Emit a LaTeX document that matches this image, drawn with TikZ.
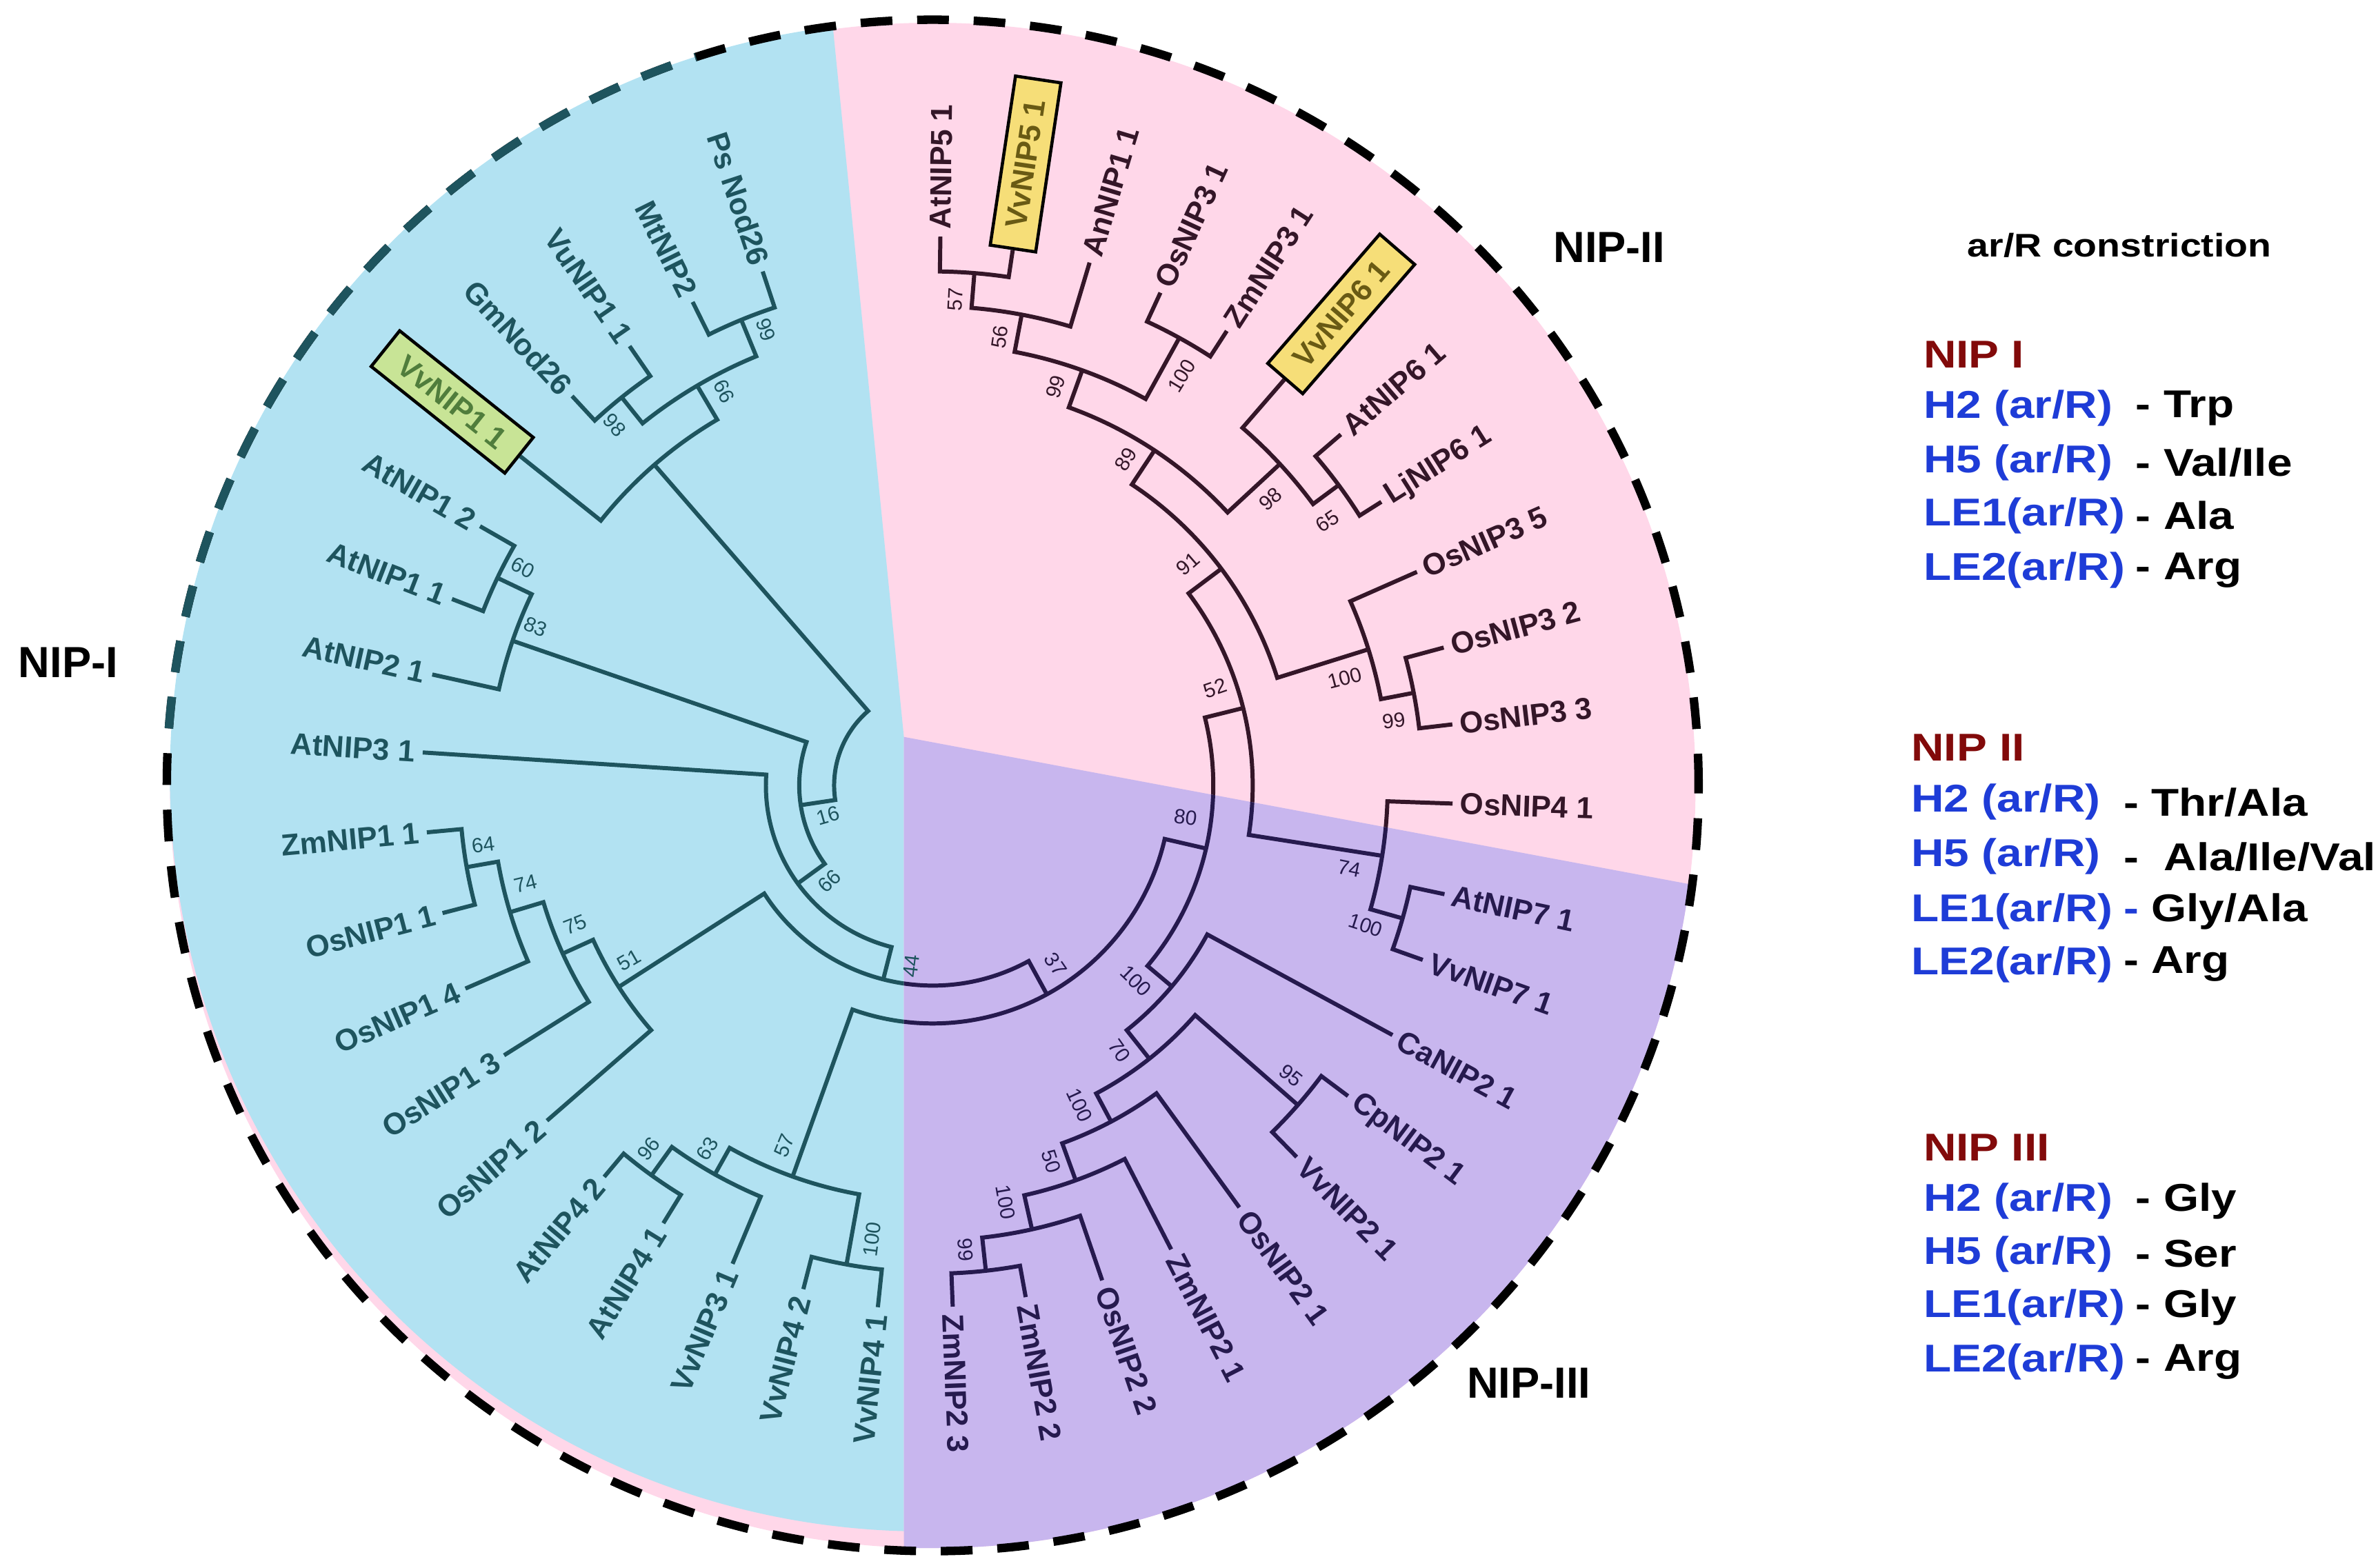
\documentclass[tikz,border=0pt]{standalone}
\usepackage{fontspec}
\setmainfont{Liberation Sans}
\usepackage{tikz}

\definecolor{bluebg}{RGB}{178,226,242}
\definecolor{pinkbg}{RGB}{255,215,233}
\definecolor{purplebg}{RGB}{200,182,238}
\definecolor{tealline}{RGB}{30,84,94}
\definecolor{pinkline}{RGB}{52,22,40}
\definecolor{purpline}{RGB}{38,26,78}
\definecolor{yellowbox}{RGB}{246,222,120}
\definecolor{yellowtext}{RGB}{105,90,20}
\definecolor{greenbox}{RGB}{200,228,150}
\definecolor{greentext}{RGB}{80,125,60}
\definecolor{legblue}{RGB}{30,60,215}
\definecolor{legred}{RGB}{130,10,10}

\tikzset{
  branch/.style={draw=pinkline, line width=1.7pt},
  leaf/.style={font=\fontsize{12.5}{14}\selectfont\bfseries, inner xsep=3pt, inner ysep=1pt},
  leafI/.style={leaf, text=tealline},
  leafII/.style={leaf, text=pinkline},
  leafIII/.style={leaf, text=purpline},
  boot/.style={font=\fontsize{8.5}{10}\selectfont, inner sep=0pt},
  vvbox/.style={draw=black, line width=1.3pt, inner xsep=3mm, inner ysep=1.8mm},
  ring/.style={line width=3.5pt, dash pattern=on 4.6mm off 3.6mm},
  nipname/.style={font=\fontsize{18}{20}\selectfont\bfseries},
  legend/.style={font=\fontsize{16}{18}\selectfont\bfseries, inner sep=0pt, anchor=west}
}

% one clade: child -- parent arc -- child
\newcommand{\clade}[5]{\draw[branch] (#1) -- (#2:#5) arc[start angle=#2, end angle=#4, radius=#5] -- (#3);}
% bootstrap values, right and left half
\newcommand{\bsR}[4]{\node[boot, rotate=#2] (#1) at (#2:#3) {#4};}
\newcommand{\bsL}[4]{\node[boot, rotate=#2-180] (#1) at (#2:#3) {#4};}
\newcommand{\wide}[1]{\scalebox{1.17}[1]{#1}}

\newcommand{\drawtree}{%
  % NIP-II
  \clade{L1}{89.2}{L2}{81.5}{339}
  \clade{n57}{85.35}{L3}{73.3}{316}
  \clade{L4}{65.2}{L5}{57.1}{337}
  \clade{n56}{79.3}{n100a}{61.15}{291}
  \clade{L7}{40.7}{L8}{32.3}{333}
  \clade{L6}{49.1}{n65}{36.5}{312}
  \clade{n99}{70.2}{n98}{42.8}{265}
  \clade{L10}{15.1}{L11}{6.7}{323}
  \clade{L9}{23.8}{n99b}{10.9}{301}
  \clade{n89}{56.5}{n100b}{17.35}{238}
  \clade{L13}{-12}{L14}{-19.6}{322}
  \clade{L12}{-2}{n100c}{-15.8}{300}
  \clade{n91}{36.9}{n74}{-8.9}{211}
  % NIP-III
  \clade{L21}{-79.7}{L22}{-87.8}{322}
  \clade{L20}{-71.1}{n99d}{-83.75}{300}
  \clade{L19}{-62.8}{n100g}{-77.4}{277}
  \clade{L18}{-54}{n50}{-70.1}{251}
  \clade{L16}{-36.8}{L17}{-45.6}{320}
  \clade{n95}{-41.2}{n100f}{-62.05}{230}
  \clade{L15}{-28.5}{n70}{-51.6}{206}
  \clade{n52}{14}{n100d}{-40.05}{185}
  % NIP-I
  \clade{L24}{255.6}{L23}{264}{321}
  \clade{L27}{230}{L26}{238.4}{317}
  \clade{n96}{234.2}{L25}{247.3}{294}
  \clade{n63}{240.75}{n100e}{259.8}{274}
  \clade{n57L}{250.3}{n80}{347}{157}
  \clade{L32}{185.3}{L31}{194.6}{312}
  \clade{n64}{189.95}{L30}{203.5}{291}
  \clade{n74b}{196.7}{L29}{212.2}{268}
  \clade{n75}{204.45}{L28}{221}{246}
  \clade{n51}{212.7}{n37}{298.65}{132}
  \clade{L33}{176.3}{n44}{255.7}{110}
  \clade{L36}{150.2}{L35}{158.8}{318}
  \clade{n60}{154.5}{L34}{167.5}{293}
  \clade{n83}{161}{n66}{216}{88}
  \clade{L41}{108.3}{L40}{116.4}{332}
  \clade{L39}{124.6}{L38}{132.8}{328}
  \clade{n99c}{112.35}{n98c}{128.7}{306}
  \clade{n66a}{120.5}{L37}{141.4}{280}
  \clade{nV}{130.95}{n16}{188.5}{65}
}

\begin{document}
\begin{tikzpicture}[x=0.22mm, y=0.22mm]
\useasboundingbox (0,0) rectangle (1568,1034);
\coordinate (T) at (615,516);

% coloured sectors
\fill[pinkbg] (T) circle[radius=503];
\begin{scope}
  \clip (0,0) -- (596,0) -- (596,548) -- (547.4,1034) -- (0,1034) -- cycle;
  \fill[bluebg] (610,522) circle[radius=498];
\end{scope}
\begin{scope}
  \clip (596,548) -- (1300,416) -- (1300,0) -- (596,0) -- cycle;
  \fill[purplebg] (T) circle[radius=503];
\end{scope}

% leaf tips and inner nodes
\begin{scope}[shift={(T)}]
  \coordinate (L1) at (89.2:362);
  \coordinate (L2) at (81.5:357);
  \coordinate (L3) at (73.3:360);
  \coordinate (L4) at (65.2:358);
  \coordinate (L5) at (57.1:357);
  \coordinate (L6) at (49.1:354);
  \coordinate (L7) at (40.7:355);
  \coordinate (L8) at (32.3:350);
  \coordinate (L9) at (23.8:349);
  \coordinate (L10) at (15.1:349);
  \coordinate (L11) at (6.7:345);
  \coordinate (L12) at (-2:343);
  \coordinate (L13) at (-12:345);
  \coordinate (L14) at (-19.6:343);
  \coordinate (L15) at (-28.5:345);
  \coordinate (L16) at (-36.8:342);
  \coordinate (L17) at (-45.6:343);
  \coordinate (L18) at (-54:344);
  \coordinate (L19) at (-62.8:344);
  \coordinate (L20) at (-71.1:345);
  \coordinate (L21) at (-79.7:343);
  \coordinate (L22) at (-87.8:344);
  \coordinate (L23) at (264:346);
  \coordinate (L24) at (255.6:343);
  \coordinate (L25) at (247.3:342);
  \coordinate (L26) at (238.4:339);
  \coordinate (L27) at (230:337);
  \coordinate (L28) at (221:337);
  \coordinate (L29) at (212.2:334);
  \coordinate (L30) at (203.5:336);
  \coordinate (L31) at (194.6:334);
  \coordinate (L32) at (185.3:335);
  \coordinate (L33) at (176.3:337);
  \coordinate (L34) at (167.5:338);
  \coordinate (L35) at (158.8:340);
  \coordinate (L36) at (150.2:344);
  \coordinate (L37) at (141.4:348);
  \coordinate (L38) at (132.8:350);
  \coordinate (L39) at (124.6:352);
  \coordinate (L40) at (116.4:356);
  \coordinate (L41) at (108.3:357);
  % NIP-II nodes
  \coordinate (n57) at (85.35:339);
  \coordinate (n56) at (79.3:316);
  \coordinate (n100a) at (61.15:337);
  \coordinate (n99) at (70.2:291);
  \coordinate (n65) at (36.5:333);
  \coordinate (n98) at (42.8:312);
  \coordinate (n89) at (56.5:265);
  \coordinate (n99b) at (10.9:323);
  \coordinate (n100b) at (17.35:301);
  \coordinate (n91) at (36.9:238);
  \coordinate (n100c) at (-15.8:322);
  \coordinate (n74) at (-8.9:300);
  \coordinate (n52) at (14:211);
  % NIP-III nodes
  \coordinate (n99d) at (-83.75:322);
  \coordinate (n100g) at (-77.4:300);
  \coordinate (n50) at (-70.1:277);
  \coordinate (n100f) at (-62.05:251);
  \coordinate (n95) at (-41.2:320);
  \coordinate (n70) at (-51.6:230);
  \coordinate (n100d) at (-40.05:206);
  \coordinate (n80) at (-13:185);
  % NIP-I nodes
  \coordinate (n100e) at (259.8:321);
  \coordinate (n96) at (234.2:317);
  \coordinate (n63) at (240.75:294);
  \coordinate (n57L) at (250.3:274);
  \coordinate (n37) at (298.65:157);
  \coordinate (n64) at (189.95:312);
  \coordinate (n74b) at (196.7:291);
  \coordinate (n75) at (204.45:268);
  \coordinate (n51) at (212.7:246);
  \coordinate (n44) at (255.7:132);
  \coordinate (n66) at (216:110);
  \coordinate (n60) at (154.5:318);
  \coordinate (n83) at (161:293);
  \coordinate (n16) at (188.5:88);
  \coordinate (n99c) at (112.35:332);
  \coordinate (n98c) at (128.7:328);
  \coordinate (n66a) at (120.5:306);
  \coordinate (nV) at (130.95:280);
\end{scope}

% tree, coloured by sector
\begin{scope}
  \clip (0,0) -- (596,0) -- (596,548) -- (547.4,1034) -- (0,1034) -- cycle;
  \begin{scope}[shift={(T)}, branch/.style={draw=tealline, line width=1.7pt}]
    \drawtree
  \end{scope}
\end{scope}
\begin{scope}
  \clip (596,548) -- (547.4,1034) -- (1300,1034) -- (1300,416) -- cycle;
  \begin{scope}[shift={(T)}]
    \drawtree
  \end{scope}
\end{scope}
\begin{scope}
  \clip (596,548) -- (1300,416) -- (1300,0) -- (596,0) -- cycle;
  \begin{scope}[shift={(T)}, branch/.style={draw=purpline, line width=1.7pt}]
    \drawtree
  \end{scope}
\end{scope}

% bootstrap values
\begin{scope}[shift={(T)}, boot/.append style={text=pinkline}]
  \bsR{b57}{87.3}{321}{57}
  \bsR{b56}{81.5}{299}{56}
  \bsR{b99}{72.9}{275}{99}
  \bsR{b100a}{58.7}{316}{100}
  \bsR{b89}{59.4}{250}{89}
  \bsR{b98}{40.3}{292}{98}
  \bsR{b65}{33.8}{313}{65}
  \bsR{b91}{41}{223}{91}
  \bsR{b100b}{14.6}{281}{100}
  \bsR{b99b}{8}{307}{99}
  \bsR{b52}{19}{197}{52}
\end{scope}
\begin{scope}[shift={(T)}, boot/.append style={text=purpline}]
  \bsR{b74}{-11.3}{280}{74}
  \bsR{b100c}{-17.9}{300}{100}
  \bsR{b80}{-7.2}{168}{80}
  \bsR{b100d}{-43.9}{186}{100}
  \bsR{b70}{-54.9}{214}{70}
  \bsR{b95}{-39}{304}{95}
  \bsR{b100f}{-65.3}{232}{100}
  \bsR{b50}{-72.5}{260}{50}
  \bsR{b100g}{-80.1}{279}{100}
  \bsR{b99d}{-86}{307}{99}
  \bsR{b37}{-55.5}{143}{37}
\end{scope}
\begin{scope}[shift={(T)}, boot/.append style={text=tealline}]
  \bsL{b44}{263.3}{120}{44}
  \bsL{b66}{222.8}{93}{66}
  \bsL{b16}{196}{72}{16}
  \bsL{b100e}{262.4}{302}{100}
  \bsL{b57L}{247.6}{257}{57}
  \bsL{b63}{238.2}{282}{63}
  \bsL{b96}{232}{304}{96}
  \bsL{b51}{209.9}{231}{51}
  \bsL{b75}{201.3}{253}{75}
  \bsL{b74b}{193.6}{276}{74}
  \bsL{b64}{187.5}{299}{64}
  \bsL{b83}{158.2}{282}{83}
  \bsL{b60}{152}{306}{60}
  \bsL{b98c}{131.4}{317}{98}
  \bsL{b66a}{117.9}{294}{66}
  \bsL{b99c}{110.1}{320}{99}
\end{scope}

% leaf names, NIP-II
\node[leafII, anchor=west, rotate=89.2] (t1) at (L1) {AtNIP5 1};
\node[leafII, vvbox, fill=yellowbox, text=yellowtext, anchor=west, rotate=81.5] (t2) at (L2) {VvNIP5 1};
\node[leafII, anchor=west, rotate=73.3] (t3) at (L3) {AnNIP1 1};
\node[leafII, anchor=west, rotate=65.2] (t4) at (L4) {OsNIP3 1};
\node[leafII, anchor=west, rotate=57.1] (t5) at (L5) {ZmNIP3 1};
\node[leafII, vvbox, fill=yellowbox, text=yellowtext, anchor=west, rotate=49.1] (t6) at (L6) {VvNIP6 1};
\node[leafII, anchor=west, rotate=40.7] (t7) at (L7) {AtNIP6 1};
\node[leafII, anchor=west, rotate=32.3] (t8) at (L8) {LjNIP6 1};
\node[leafII, anchor=west, rotate=23.8] (t9) at (L9) {OsNIP3 5};
\node[leafII, anchor=west, rotate=15.1] (t10) at (L10) {OsNIP3 2};
\node[leafII, anchor=west, rotate=6.7] (t11) at (L11) {OsNIP3 3};
\node[leafII, anchor=west, rotate=-2] (t12) at (L12) {OsNIP4 1};
% NIP-III
\node[leafIII, anchor=west, rotate=-12] (t13) at (L13) {AtNIP7 1};
\node[leafIII, anchor=west, rotate=-19.6] (t14) at (L14) {VvNIP7 1};
\node[leafIII, anchor=west, rotate=-28.5] (t15) at (L15) {CaNIP2 1};
\node[leafIII, anchor=west, rotate=-36.8] (t16) at (L16) {CpNIP2 1};
\node[leafIII, anchor=west, rotate=-45.6] (t17) at (L17) {VvNIP2 1};
\node[leafIII, anchor=west, rotate=-54] (t18) at (L18) {OsNIP2 1};
\node[leafIII, anchor=west, rotate=-62.8] (t19) at (L19) {ZmNIP2 1};
\node[leafIII, anchor=west, rotate=-71.1] (t20) at (L20) {OsNIP2 2};
\node[leafIII, anchor=west, rotate=-79.7] (t21) at (L21) {ZmNIP2 2};
\node[leafIII, anchor=west, rotate=-87.8] (t22) at (L22) {ZmNIP2 3};
% NIP-I
\node[leafI, anchor=east, rotate=84] (t23) at (L23) {VvNIP4 1};
\node[leafI, anchor=east, rotate=75.6] (t24) at (L24) {VvNIP4 2};
\node[leafI, anchor=east, rotate=67.3] (t25) at (L25) {VvNIP3 1};
\node[leafI, anchor=east, rotate=58.4] (t26) at (L26) {AtNIP4 1};
\node[leafI, anchor=east, rotate=50] (t27) at (L27) {AtNIP4 2};
\node[leafI, anchor=east, rotate=41] (t28) at (L28) {OsNIP1 2};
\node[leafI, anchor=east, rotate=32.2] (t29) at (L29) {OsNIP1 3};
\node[leafI, anchor=east, rotate=23.5] (t30) at (L30) {OsNIP1 4};
\node[leafI, anchor=east, rotate=14.6] (t31) at (L31) {OsNIP1 1};
\node[leafI, anchor=east, rotate=5.3] (t32) at (L32) {ZmNIP1 1};
\node[leafI, anchor=east, rotate=-3.7] (t33) at (L33) {AtNIP3 1};
\node[leafI, anchor=east, rotate=-12.5] (t34) at (L34) {AtNIP2 1};
\node[leafI, anchor=east, rotate=-21.2] (t35) at (L35) {AtNIP1 1};
\node[leafI, anchor=east, rotate=-29.8] (t36) at (L36) {AtNIP1 2};
\node[leafI, vvbox, fill=greenbox, text=greentext, anchor=east, rotate=-38.6] (t37) at (L37) {VvNIP1 1};
\node[leafI, anchor=east, rotate=-47.2] (t38) at (L38) {GmNod26};
\node[leafI, anchor=east, rotate=-55.4] (t39) at (L39) {VuNIP1 1};
\node[leafI, anchor=east, rotate=-63.6] (t40) at (L40) {MtNIP2};
\node[leafI, anchor=east, rotate=-71.7] (t41) at (L41) {Ps Nod26};

% dashed ring, dark teal on the upper left
\draw[ring] (T) circle[radius=505];
\begin{scope}[shift={(T)}]
  \clip (0,0) -- (108:700) -- (142:800) -- (176:700) -- cycle;
  \draw[ring, tealline] (0,0) circle[radius=505];
\end{scope}

% group names
\node[nipname] (cI) at (45,597) {NIP-I};
\node[nipname] (cII) at (1061,871) {NIP-II};
\node[nipname] (cIII) at (1008,122) {NIP-III};

% legend
\node[anchor=west, inner sep=0pt, font=\fontsize{13.5}{15}\selectfont\bfseries] (g0) at (1297,872) {\wide{ar/R constriction}};

\node[legend, text=legred] (g1) at (1268,800) {\wide{NIP I}};
\node[legend, text=legblue] (g1a) at (1268,765) {\wide{H2 (ar/R)}};
\node[legend] (g1b) at (1408,765) {\wide{- Trp}};
\node[legend, text=legblue] (g1c) at (1268,729) {\wide{H5 (ar/R)}};
\node[legend] (g1d) at (1408,729) {\wide{- Val/Ile}};
\node[legend, text=legblue] (g1e) at (1268,694) {\wide{LE1(ar/R)}};
\node[legend] (g1f) at (1408,694) {\wide{- Ala}};
\node[legend, text=legblue] (g1g) at (1268,658) {\wide{LE2(ar/R)}};
\node[legend] (g1h) at (1408,658) {\wide{- Arg}};

\node[legend, text=legred] (g2) at (1260,541) {\wide{NIP II}};
\node[legend, text=legblue] (g2a) at (1260,505) {\wide{H2 (ar/R)}};
\node[legend] (g2b) at (1400,505) {\wide{- Thr/Ala}};
\node[legend, text=legblue] (g2c) at (1260,469) {\wide{H5 (ar/R)}};
\node[legend] (g2d) at (1400,469) {\wide{- \ Ala/Ile/Val}};
\node[legend, text=legblue] (g2e) at (1260,433) {\wide{LE1(ar/R)}};
\node[legend] (g2f) at (1400,433) {\wide{\textcolor{legblue}{-} Gly/Ala}};
\node[legend, text=legblue] (g2g) at (1260,398) {\wide{LE2(ar/R)}};
\node[legend] (g2h) at (1400,398) {\wide{- Arg}};

\node[legend, text=legred] (g3) at (1268,277) {\wide{NIP III}};
\node[legend, text=legblue] (g3a) at (1268,242) {\wide{H2 (ar/R)}};
\node[legend] (g3b) at (1408,242) {\wide{- Gly}};
\node[legend, text=legblue] (g3c) at (1268,207) {\wide{H5 (ar/R)}};
\node[legend] (g3d) at (1408,207) {\wide{- Ser}};
\node[legend, text=legblue] (g3e) at (1268,172) {\wide{LE1(ar/R)}};
\node[legend] (g3f) at (1408,172) {\wide{- Gly}};
\node[legend, text=legblue] (g3g) at (1268,136) {\wide{LE2(ar/R)}};
\node[legend] (g3h) at (1408,136) {\wide{- Arg}};
\end{tikzpicture}
\end{document}
